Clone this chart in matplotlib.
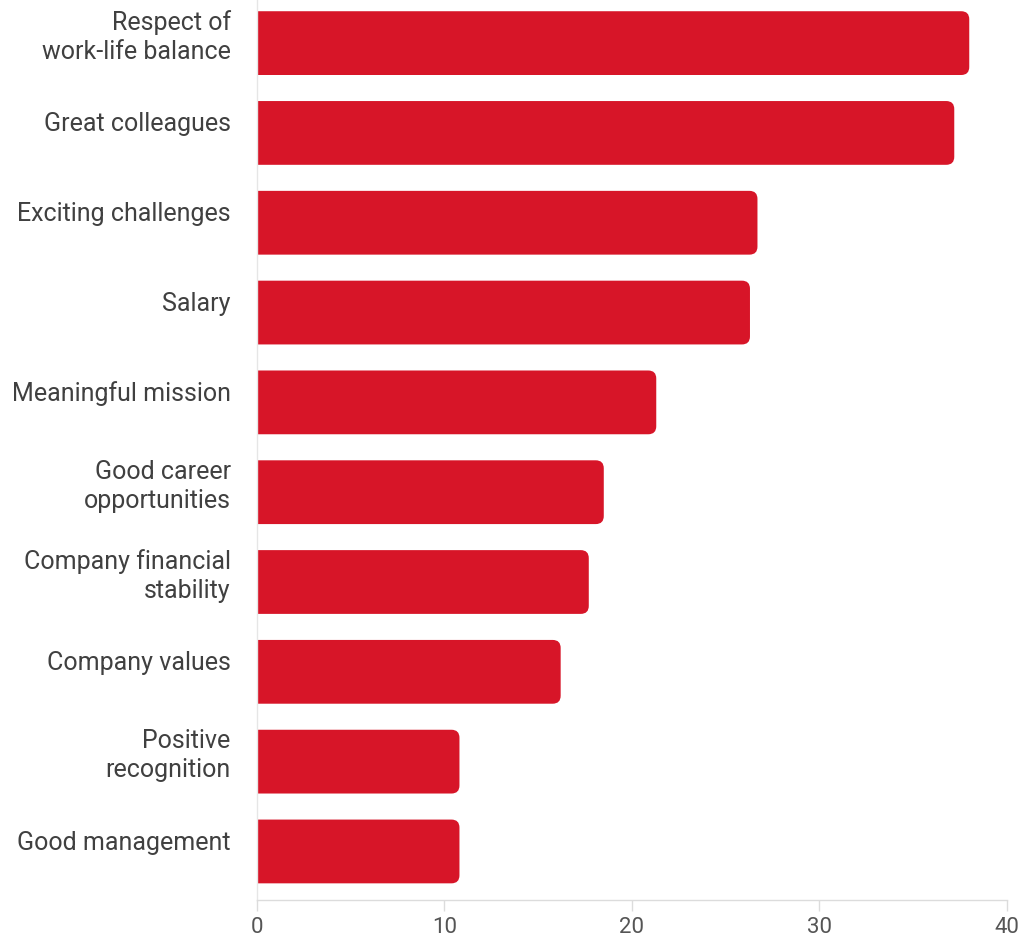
import matplotlib.pyplot as plt
from matplotlib.patches import FancyBboxPatch
from matplotlib.transforms import ScaledTranslation

plt.rcParams['font.family'] = ['Roboto', 'DejaVu Sans']

categories = [
    "Respect of\nwork-life balance",
    "Great colleagues",
    "Exciting challenges",
    "Salary",
    "Meaningful mission",
    "Good career\nopportunities",
    "Company financial\nstability",
    "Company values",
    "Positive\nrecognition",
    "Good management",
]
values = [38.0, 37.2, 26.7, 26.3, 21.3, 18.5, 17.7, 16.2, 10.8, 10.8]
xticks = [0, 10, 20, 30, 40]

bar_color = "#D71528"
text_color = "#404040"

fig = plt.figure(figsize=(10.2, 9.4), dpi=100)
ax = fig.add_axes([0.252, 0.0426, 0.735, 0.9574])

ypos = list(range(len(categories)))
bars = ax.barh(ypos, values, height=0.71, color=bar_color)

ax.set_xlim(0, 40)
ax.set_ylim(9.54, -0.48)

# swap plain bars for ones with rounded ends (left side sits outside xlim)
px_x = 0.735 * 1020 / 40
px_y = 0.9574 * 940 / (9.54 + 0.48)
radius = 8 / px_x
for b in bars:
    x0, y0 = b.get_x(), b.get_y()
    w, h = b.get_width(), b.get_height()
    b.set_visible(False)
    patch = FancyBboxPatch((x0 - 1, y0), w + 1, h,
                           boxstyle=f"round,pad=0,rounding_size={radius}",
                           mutation_aspect=px_x / px_y,
                           facecolor=bar_color, edgecolor="none")
    ax.add_patch(patch)

ax.set_yticks(ypos)
ax.set_yticklabels(categories, fontsize=18, color=text_color,
                   linespacing=1.27, ha="right")
ax.tick_params(axis="y", length=0, pad=19)

# category labels sit a little above the bar centre
shift = ScaledTranslation(0, 11 / 100, fig.dpi_scale_trans)
for lbl in ax.get_yticklabels():
    lbl.set_transform(lbl.get_transform() + shift)

ax.set_xticks(xticks)
ax.tick_params(axis="x", length=8, width=1, color="#dcdcdc",
               labelsize=16, labelcolor="#555555", pad=4)

for side in ["top", "right"]:
    ax.spines[side].set_visible(False)
ax.spines["left"].set_color("#e6e6e6")
ax.spines["bottom"].set_color("#dcdcdc")
ax.spines["left"].set_linewidth(1)
ax.spines["bottom"].set_linewidth(1)

fig.savefig("out.png", dpi=100, facecolor="white")
